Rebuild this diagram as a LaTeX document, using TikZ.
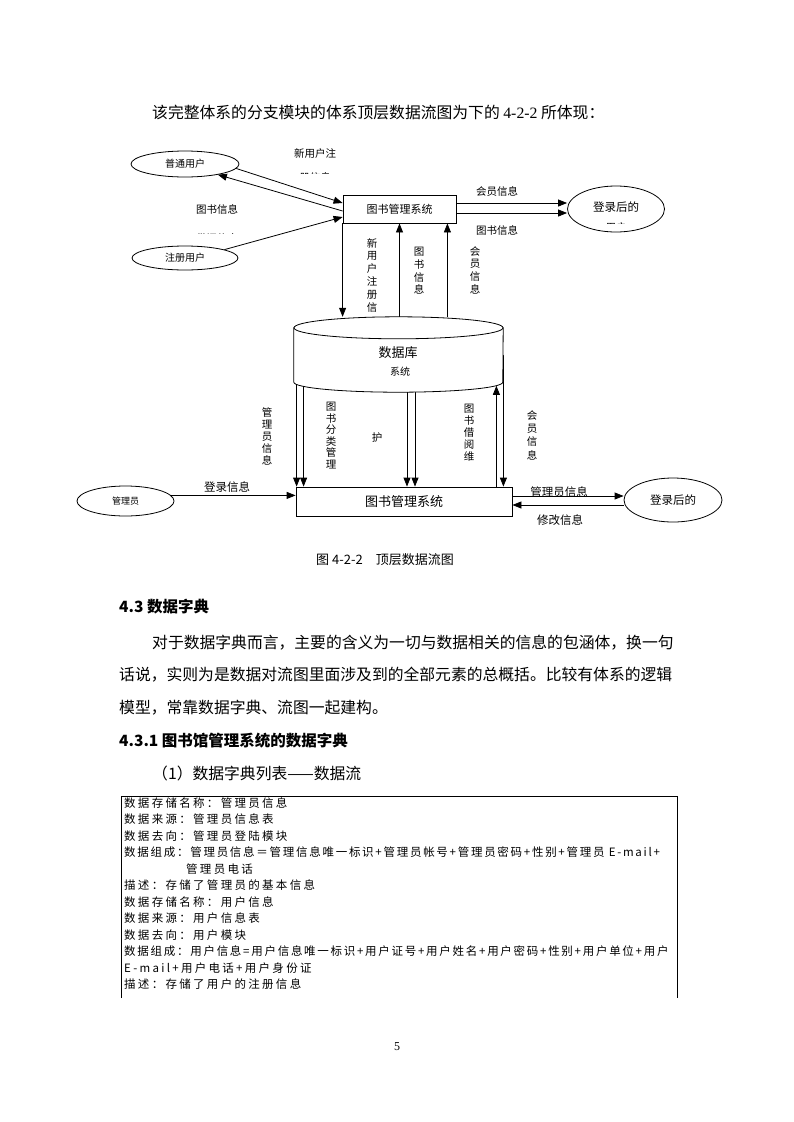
\documentclass[tikz,border=0pt]{standalone}
\usepackage{fontspec}
\setmainfont{Noto Sans CJK SC}
\newfontfamily\tabfont[LetterSpace=20]{Noto Sans CJK SC}
\newfontfamily\tabfontlong[LetterSpace=15]{Noto Sans CJK SC}
\newfontfamily\numfont{Liberation Serif}
\usetikzlibrary{arrows.meta,positioning,shapes.geometric}

\begin{document}
\begin{tikzpicture}[x=1pt, y=-1pt,
  proc/.style={draw, line width=0.8pt, inner sep=0pt, fill=white},
  ent/.style={draw, ellipse, line width=0.8pt, inner sep=0pt, font=\fontsize{10}{12}\selectfont},
  lbl/.style={inner sep=0pt, font=\fontsize{10.5}{12.5}\selectfont},
  vlbl/.style={lbl, align=center},
  arr/.style={-{Triangle[length=9pt, width=7pt]}, line width=0.8pt},
  body/.style={anchor=west, inner sep=0pt, font=\fontsize{15.8}{18}\selectfont},
  head/.style={anchor=west, inner sep=0pt, font=\bfseries\fontsize{15.5}{18}\selectfont},
  trow/.style={anchor=west, inner sep=0pt, font=\tabfont\fontsize{11.5}{13}\selectfont},
  trowlong/.style={trow, font=\tabfontlong\fontsize{11.5}{13}\selectfont}]

\useasboundingbox (0,0) rectangle (793,1122);
\fill[white] (0,0) rectangle (793,1122);

\node[body] (intro) at (152,112) {该完整体系的分支模块的体系顶层数据流图为下的 {\numfont 4-2-2} 所体现：};

% top part of the flow diagram
\node[ent, minimum width=108pt, minimum height=26pt] (pu) at (185,164) {普通用户};
\node[ent, minimum width=106pt, minimum height=24pt] (zc) at (185,258) {注册用户};
\node[proc, minimum width=113pt, minimum height=28pt, font=\fontsize{11}{13}\selectfont] (sysA) at (399.5,209) {图书管理系统};
\node[ent, minimum width=97pt, minimum height=46pt] (dlA) at (616,209) {};
\node[lbl, font=\fontsize{11.5}{13}\selectfont] (dlAt) at (616,207) {登录后的};
\begin{scope}
  \clip (580,215) rectangle (650,223.5);
  \node[lbl] (dlAu) at (616,228) {用户};
\end{scope}

\draw[arr] (pu.-5) -- ([yshift=6pt]sysA.west);
\draw[arr] ([yshift=-2pt]sysA.west) -- (pu.-18);
\draw[arr] (zc.12) -- ([yshift=-8pt]sysA.west);
\draw[arr] ([yshift=6pt]sysA.east) -- ([yshift=6pt]dlA.west);
\draw[arr] ([yshift=-4pt]sysA.east) -- ([yshift=-4pt]dlA.west);

\node[lbl] (lNew) at (315,154) {新用户注};
\begin{scope}
  \clip (280,160) rectangle (350,173);
  \node[lbl] (lNew2) at (315,177) {册信息};
\end{scope}
\node[lbl] (lBookL) at (217,209) {图书信息};
\begin{scope}
  \clip (180,220) rectangle (260,233.5);
  \node[lbl] (lBor) at (217,238) {借阅信息};
\end{scope}
\node[lbl] (lMemR) at (497,191) {会员信息};
\node[lbl] (lBookR) at (497,230) {图书信息};

% database
\node[minimum width=209pt, minimum height=75pt, inner sep=0pt] (db) at (398.5,354.5) {};

\draw[arr] (sysA.south west) -- (sysA.south west |- db.north);
\draw[arr] (sysA.south |- db.north) -- (sysA.south);
\draw[arr] ([xshift=-9pt]sysA.south east |- db.north) -- ([xshift=-9pt]sysA.south east);

\node[vlbl, font=\fontsize{10.5}{12.8}\selectfont] (vNew) at (372,275) {新\\用\\户\\注\\册\\信};
\node[vlbl, font=\fontsize{10.5}{12.7}\selectfont] (vBookA) at (419,271) {图\\书\\信\\息};
\node[vlbl, font=\fontsize{10.5}{12.7}\selectfont] (vMemA) at (475,270) {会\\员\\信\\息};

% bottom part
\node[proc, minimum width=216pt, minimum height=29pt, font=\fontsize{13}{15}\selectfont] (sysB) at (404,501.5) {图书管理系统};
\node[ent, minimum width=97pt, minimum height=30pt, font=\fontsize{9}{11}\selectfont] (gly) at (125.5,501) {管理员};
\node[ent, minimum width=98pt, minimum height=44pt, font=\fontsize{11.5}{13}\selectfont] (dlB) at (673,500) {登录后的};

\coordinate (c1) at ([xshift=1pt]sysB.north west);
\coordinate (c2) at ([xshift=8pt]sysB.north west);
\coordinate (c3) at ([xshift=3pt]sysB.north);
\coordinate (c4) at ([xshift=11pt]sysB.north);
\coordinate (c5) at ([xshift=-16pt]sysB.north east);
\coordinate (c6) at ([xshift=-9pt]sysB.north east);
\coordinate (dbtip) at ([yshift=6.4pt]db.south);

\draw[arr] (c1 |- db.center) -- (c1);
\draw[arr] (c2 |- db.center) -- (c2);
\draw[arr] (c3 |- db.center) -- (c3);
\draw[arr] (c4 |- db.center) -- (c4);
\draw[arr] (c5) -- (c5 |- dbtip);
\draw[arr] (c6 |- db.center) -- (c6);

% cylinder drawn over the line starts
\draw[line width=0.8pt, fill=white] ([yshift=-11pt]db.north west) -- ([yshift=10pt]db.south west)
  arc[start angle=180, end angle=0, x radius=104.5, y radius=10] -- ([yshift=-11pt]db.north east) -- cycle;
\draw[line width=0.8pt, fill=white] ([yshift=-11pt]db.north) ellipse[x radius=104.5, y radius=11];
\node[inner sep=0pt, font=\fontsize{13}{15}\selectfont] (dbname) at (398,353) {数据库};
\node[lbl, font=\fontsize{10}{12}\selectfont] (dbsys) at (400,372) {系统};

\draw[arr] (gly.7) -- (gly.7 -| sysB.west);
\draw[arr] ([yshift=5.5pt]sysB.east) -- ([yshift=5.5pt]sysB.east -| dlB.west);
\draw[arr] ([yshift=-3.5pt]sysB.east -| dlB.west) -- ([yshift=-3.5pt]sysB.east);

\node[vlbl, font=\fontsize{10.5}{12}\selectfont] (vAdm) at (267,436) {管\\理\\员\\信\\息};
\node[vlbl, font=\fontsize{10.5}{11.6}\selectfont] (vCls) at (331,435.5) {图\\书\\分\\类\\管\\理};
\node[lbl] (vHu) at (377,438) {护};
\node[vlbl, font=\fontsize{10.5}{12}\selectfont] (vBor) at (469,433) {图\\书\\借\\阅\\维};
\node[vlbl, font=\fontsize{10.5}{13.3}\selectfont] (vMemB) at (532,435) {会\\员\\信\\息};
\node[lbl, font=\fontsize{11.5}{13}\selectfont] (lLogin) at (227,487) {登录信息};
\node[lbl, font=\fontsize{11.5}{13}\selectfont] (lAdm) at (559,492) {管理员信息};
\node[lbl, font=\fontsize{11.5}{13}\selectfont] (lMod) at (560,520) {修改信息};

\node[inner sep=0pt, font=\fontsize{13}{15}\selectfont] (cap) at (385,560) {图 4-2-2　顶层数据流图};

% text below
\node[head] (h43) at (119,607) {4.3 数据字典};
\node[body] (p1) at (152,643) {对于数据字典而言，主要的含义为一切与数据相关的信息的包涵体，换一句};
\node[body] (p2) at (119,675) {话说，实则为是数据对流图里面涉及到的全部元素的总概括。比较有体系的逻辑};
\node[body] (p3) at (119,708) {模型，常靠数据字典、流图一起建构。};
\node[head] (h431) at (119,741) {4.3.1 图书馆管理系统的数据字典};
\node[body] (p4) at (152,773) {（1）数据字典列表——数据流};

% data dictionary table
\draw[line width=0.8pt] (121,998) -- (121,796) -- (677,796) -- (677,998);
\node[trow] (r1) at (124,803) {数据存储名称：管理员信息};
\node[trow] (r2) at (124,819.5) {数据来源：管理员信息表};
\node[trow] (r3) at (124,836) {数据去向：管理员登陆模块};
\node[trowlong] (r4) at (124,852.5) {数据组成：管理员信息＝管理信息唯一标识+管理员帐号+管理员密码+性别+管理员 E-mail+};
\node[trow] (r5) at (186,869) {管理员电话};
\node[trow] (r6) at (124,885.5) {描述：存储了管理员的基本信息};
\node[trow] (r7) at (124,902) {数据存储名称：用户信息};
\node[trow] (r8) at (124,918.5) {数据来源：用户信息表};
\node[trow] (r9) at (124,935) {数据去向：用户模块};
\node[trowlong] (r10) at (124,951.5) {数据组成：用户信息=用户信息唯一标识+用户证号+用户姓名+用户密码+性别+用户单位+用户};
\node[trow] (r11) at (124,968) {E-mail+用户电话+用户身份证};
\node[trow] (r12) at (124,984.5) {描述：存储了用户的注册信息};

\node[inner sep=0pt, font=\numfont\fontsize{12}{14}\selectfont] (pg) at (397,1047) {5};
\end{tikzpicture}
\end{document}
